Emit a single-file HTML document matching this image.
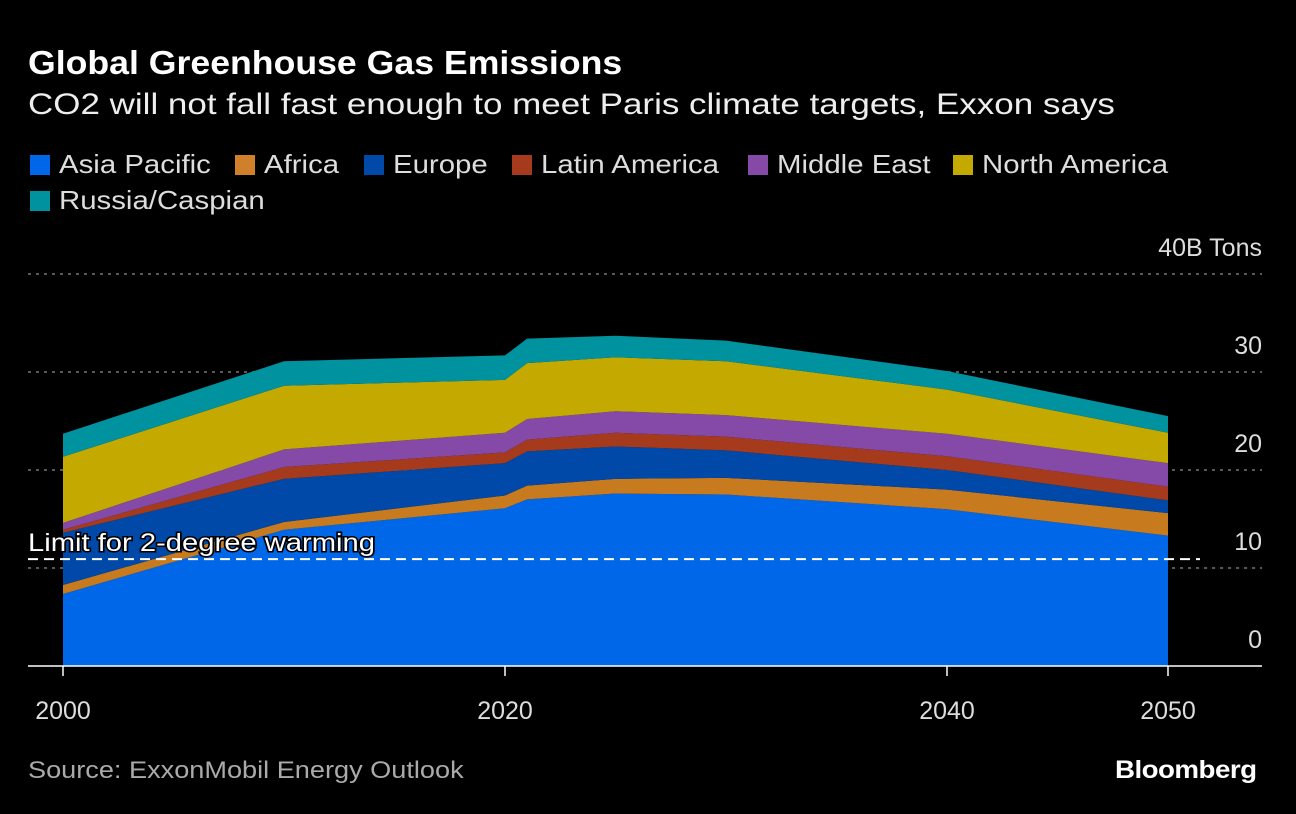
<!DOCTYPE html>
<html><head><meta charset="utf-8"><style>
body{margin:0;background:#000;width:1296px;height:814px;overflow:hidden;font-family:"Liberation Sans",sans-serif;color:#fff}
.t{position:absolute;white-space:nowrap;transform-origin:0 0}
.lg{position:absolute;font-size:26px;color:#ddd;white-space:nowrap}
.lg i{display:inline-block;width:20px;height:20px;margin-right:9px;vertical-align:-2px}
.lg span{display:inline-block;transform:scaleX(1.13);transform-origin:0 0}
</style></head><body>
<div class="t" style="left:28px;top:44px;font-size:33px;font-weight:bold;transform:scaleX(1.08)">Global Greenhouse Gas Emissions</div>
<div class="t" style="left:28px;top:88px;font-size:30px;color:#eee;transform:scaleX(1.166)">CO2 will not fall fast enough to meet Paris climate targets, Exxon says</div>
<div>
<div class="lg" style="left:30px;top:149px"><i style="background:#0068e8"></i><span>Asia Pacific</span></div>
<div class="lg" style="left:235px;top:149px"><i style="background:#d0802a"></i><span>Africa</span></div>
<div class="lg" style="left:364px;top:149px"><i style="background:#0049a8"></i><span>Europe</span></div>
<div class="lg" style="left:512px;top:149px"><i style="background:#a63a1c"></i><span>Latin America</span></div>
<div class="lg" style="left:748px;top:149px"><i style="background:#8549a8"></i><span>Middle East</span></div>
<div class="lg" style="left:953px;top:149px"><i style="background:#c4aa00"></i><span>North America</span></div>
<div class="lg" style="left:30px;top:185px"><i style="background:#00929f"></i><span>Russia/Caspian</span></div>
</div>
<svg id="c" width="1296" height="814" style="position:absolute;left:0;top:0"></svg>
<div class="t" style="left:28px;top:757px;font-size:24px;color:#aaa;transform:scaleX(1.13)">Source: ExxonMobil Energy Outlook</div>
<div class="t" style="left:1115px;top:756px;font-size:25px;font-weight:bold;letter-spacing:-0.5px;transform:scaleX(1.11)">Bloomberg</div>
<script>
const years=[2000,2010,2020,2021,2025,2030,2040,2050];
const seriesNames=["Asia Pacific","Africa","Europe","Latin America","Middle East","North America","Russia/Caspian"];
const colors=["#0068e8","#c87a1e","#0049a8","#a63a1c","#8549a8","#c4aa00","#00929f"];
// cumulative tops
const asiaTop=[7.35,13.9,16.1,17.0,17.6,17.5,16.0,13.3];
const africaTop=[8.27,14.7,17.4,18.4,19.1,19.2,18.0,15.6];
const europeTop=[13.6,19.1,20.7,21.9,22.4,22.0,20.0,16.9];
const latamTop=[13.9,20.3,21.8,23.1,23.8,23.4,21.4,18.3];
const meTop=[14.6,22.1,23.8,25.2,26.0,25.6,23.7,20.7];
const naTop=[21.35,28.6,29.2,30.9,31.5,31.1,28.2,23.8];
const russiaTop=[23.7,31.1,31.7,33.4,33.7,33.2,30.1,25.5];
const yTicks=[0,10,20,30,40];
const xTicks=[2000,2020,2040,2050];
const limitValue=10.9;
const X=y=>63+(y-2000)*(1168-63)/50;
const Y=v=>666-v*9.8;
const svg=document.getElementById('c');
const NS="http://www.w3.org/2000/svg";
function mk(t,a){const e=document.createElementNS(NS,t);for(const k in a)e.setAttribute(k,a[k]);svg.appendChild(e);return e;}
yTicks.forEach(v=>{
 if(v>0){const l=mk('line',{x1:28,x2:1262,y1:Y(v),y2:Y(v),stroke:'#777','stroke-width':1.5,'stroke-dasharray':'3,5'});
 
 }
 const t=mk('text',{x:1262,y:Y(v)-18,'text-anchor':'end','font-size':25,fill:'#ddd','font-family':'Liberation Sans, sans-serif'});
 t.textContent=v===40?'40B Tons':String(v);
 
 
});
const tops=[asiaTop,africaTop,europeTop,latamTop,meTop,naTop,russiaTop];
tops.forEach((top,i)=>{
 const bot=i?tops[i-1]:years.map(()=>0);
 let d='M'+years.map((y,j)=>X(y)+','+Y(top[j])).join('L');
 for(let j=years.length-1;j>=0;j--)d+='L'+X(years[j])+','+Y(bot[j]);
 const p=mk('path',{d:d+'Z',fill:colors[i]});
 
 
});
const base=mk('line',{x1:28,x2:1262,y1:666,y2:666,stroke:'#fff','stroke-width':1.5});


xTicks.forEach(y=>{
 const l=mk('line',{x1:X(y),x2:X(y),y1:666,y2:676,stroke:'#fff','stroke-width':1.5});
 
 
 const t=mk('text',{x:X(y),y:719,'text-anchor':'middle','font-size':25,fill:'#ddd','font-family':'Liberation Sans, sans-serif'});
 t.textContent=y;
 
 
});
const lim=mk('line',{x1:28,x2:1200,y1:Y(limitValue),y2:Y(limitValue),stroke:'#fff','stroke-width':2,'stroke-dasharray':'10,6'});


const lt=mk('text',{x:28,y:Y(limitValue)-8,'font-size':25,fill:'#fff','font-family':'Liberation Sans, sans-serif',stroke:'#000','stroke-width':3,'paint-order':'stroke',textLength:347,lengthAdjust:'spacingAndGlyphs'});
lt.textContent='Limit for 2-degree warming';


</script>
</body></html>
